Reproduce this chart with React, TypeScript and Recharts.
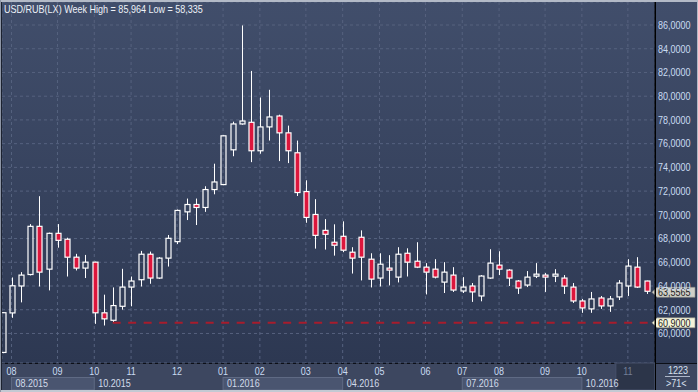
import React from 'react';
import { Bar, CartesianGrid, ComposedChart, ReferenceLine, XAxis, YAxis } from 'recharts';

// weekly USD/RUB candles, Aug 2015 - Nov 2016
const opens = [
  58.4, 61.73, 64.0, 64.97, 69.03, 65.42, 68.44, 67.94, 66.43, 65.51,
  66.01, 61.74, 61.11, 62.29, 63.91, 64.53, 66.68, 64.67, 66.35, 67.74,
  70.25, 70.87, 70.62, 72.13, 72.55, 75.48, 77.66, 77.8, 75.4, 77.41,
  78.33, 76.91, 75.23, 71.96, 70.03, 68.69, 67.69, 68.19, 66.85, 68.11,
  66.26, 64.67, 65.51, 64.75, 66.76, 66.09, 65.59, 65.42, 64.33, 64.92,
  63.58, 64.0, 63.16, 64.67, 65.76, 65.34, 64.42, 64.08, 64.83, 64.92,
  64.83, 64.67, 63.91, 62.74, 62.07, 62.99, 62.32, 63.08, 64.0, 65.59,
  64.42,
];
const highs = [
  61.8, 64.72, 65.17, 69.22, 71.57, 68.5, 69.22, 68.07, 66.71, 66.62,
  66.05, 63.27, 63.88, 65.45, 64.8, 66.96, 66.9, 66.43, 68.3, 70.45,
  71.37, 71.37, 72.41, 74.31, 76.7, 77.85, 85.964, 82.13, 79.89, 80.54,
  78.44, 77.52, 76.26, 72.91, 71.32, 69.64, 69.2, 69.45, 67.27, 68.69,
  66.76, 66.76, 66.6, 67.27, 67.18, 67.69, 65.93, 66.26, 66.01, 65.59,
  64.75, 64.25, 64.92, 67.1, 66.93, 65.42, 64.5, 65.26, 65.93, 65.09,
  65.42, 64.92, 64.25, 62.91, 63.5, 63.16, 63.16, 64.5, 66.26, 66.43,
  64.45,
];
const lows = [
  58.335, 61.32, 62.62, 64.89, 63.96, 63.63, 67.23, 64.8, 65.31, 64.67,
  60.81, 60.67, 60.9, 62.01, 62.29, 63.96, 64.19, 64.6, 65.64, 67.54,
  69.56, 69.14, 70.25, 71.73, 72.5, 74.94, 77.6, 74.44, 75.15, 76.26,
  74.53, 74.36, 71.59, 69.33, 67.15, 67.07, 66.56, 66.85, 65.05, 64.47,
  63.88, 63.96, 64.05, 64.3, 64.8, 65.51, 63.29, 64.64, 63.41, 63.5,
  63.41, 62.66, 62.71, 64.6, 64.92, 64.0, 63.33, 63.91, 64.67, 63.5,
  64.33, 63.33, 62.57, 61.74, 61.74, 62.07, 61.82, 62.82, 63.16, 63.83,
  63.33,
];
const closes = [
  61.75, 64.02, 64.92, 69.03, 65.17, 68.44, 67.85, 66.43, 65.51, 66.01,
  61.74, 61.23, 62.35, 63.91, 64.42, 66.68, 64.67, 66.35, 68.02, 70.37,
  70.87, 70.62, 72.13, 72.77, 76.66, 77.66, 77.91, 75.4, 77.41, 78.25,
  76.91, 75.4, 71.88, 69.78, 68.27, 68.36, 67.44, 67.02, 66.35, 66.43,
  64.58, 65.84, 65.34, 66.68, 66.01, 65.59, 65.17, 64.75, 65.17, 63.66,
  63.91, 63.5, 64.84, 65.93, 65.42, 64.67, 63.83, 64.75, 65.0, 64.75,
  65.0, 63.99, 62.74, 62.15, 62.91, 62.32, 62.91, 64.25, 65.68, 63.91,
  63.5565,
];

const monthTicks = [1, 6, 10, 14, 19, 24, 28, 33, 37, 41, 46, 50, 54, 59, 63, 68];
const monthLabels = ['08', '09', '10', '11', '12', '01', '02', '03', '04', '05', '06', '07', '08', '09', '10', '11'];
const quarterTicks = [1, 10, 24, 37, 50, 63];
const quarterLabels = ['08.2015', '10.2015', '01.2016', '04.2016', '07.2016', '10.2016'];
const yTicks = [60, 62, 64, 66, 68, 70, 72, 74, 76, 78, 80, 82, 84, 86];

const lastPrice = 63.5565;
const supportLevel = 60.9;
const supportFrom = 12;

const X_DOMAIN: [number, number] = [-0.03, 70.95];
const Y_DOMAIN: [number, number] = [57.51, 87.94];

// no narrow font installed, so Liberation Sans is squeezed horizontally
const FONT = "'Liberation Sans', Arial, sans-serif";
const SQUEEZE = 0.82;
const LABEL = '#c9dbf2';
const RED = '#dc163c';

const data = opens.map((open, i) => ({
  i,
  open,
  high: highs[i],
  low: lows[i],
  close: closes[i],
  range: [lows[i], highs[i]],
}));

const fmt = (v: number) => v.toFixed(4).replace('.', ',');

const NarrowText = ({ x, y, anchor = 'start', fill, children }: any) => (
  <text
    transform={`translate(${x},${y}) scale(${SQUEEZE},1)`}
    textAnchor={anchor}
    dominantBaseline="central"
    fill={fill}
    fontSize={11}
    fontFamily={FONT}
  >
    {children}
  </text>
);

const Candle = (props: any) => {
  const { x, y, width, height, payload } = props;
  if (payload == null || height == null) return null;
  const { open, close, high, low } = payload;
  const k = height / (high - low);
  const cx = Math.round(x + width / 2) + 0.5;
  const yO = y + (high - open) * k;
  const yC = y + (high - close) * k;
  const top = Math.min(yO, yC);
  const bot = Math.max(yO, yC);
  const up = close >= open;
  const bw = 5;
  return (
    <g>
      <line x1={cx} x2={cx} y1={y} y2={top} stroke="#fff" strokeWidth={1} />
      <line x1={cx} x2={cx} y1={bot} y2={y + height} stroke="#fff" strokeWidth={1} />
      <rect
        x={cx - bw / 2}
        y={top}
        width={bw}
        height={Math.max(bot - top, 1.5)}
        fill={up ? 'none' : RED}
        stroke="#fff"
        strokeWidth={1.2}
      />
    </g>
  );
};

const MonthTick = (props: any) => {
  const { x, y, payload } = props;
  const k = monthTicks.indexOf(payload.value);
  const last = k === monthTicks.length - 1;
  return (
    <g>
      {last && <rect x={x - 12} y={y} width={39} height={27} fill="#2c3549" stroke="#46506a" />}
      <NarrowText x={x} y={y + 8} anchor="middle" fill={last ? '#737e97' : LABEL}>
        {monthLabels[k]}
      </NarrowText>
    </g>
  );
};

const QuarterTick = (props: any) => {
  const { x, y, payload } = props;
  const k = quarterTicks.indexOf(payload.value);
  const next = k < quarterTicks.length - 1 ? quarterTicks[k + 1] : X_DOMAIN[1];
  const pxPerUnit = (Number(props.width) || 653) / (X_DOMAIN[1] - X_DOMAIN[0]);
  const w = (next - payload.value) * pxPerUnit;
  const shaded = k % 2 === 0;
  return (
    <g>
      {shaded && <rect x={x} y={y + 0.5} width={w} height={12.5} fill="#4a5570" stroke="#5f6a84" />}
      <NarrowText x={x + 4} y={y + 6.5} fill="#d2dbea">
        {quarterLabels[k]}
      </NarrowText>
    </g>
  );
};

const PriceTick = (props: any) => {
  const { x, y, payload } = props;
  return (
    <NarrowText x={x} y={y} fill={LABEL}>
      {fmt(payload.value)}
    </NarrowText>
  );
};

const PriceTag = (props: any) => {
  const { viewBox, text, bg, shift = 0 } = props;
  if (!viewBox) return null;
  const right = viewBox.x + viewBox.width;
  const cy = viewBox.y + shift;
  const pts = `${right - 3},${cy} ${right + 2},${cy - 5} ${right + 40},${cy - 5} ${right + 40},${cy + 5} ${right + 2},${cy + 5}`;
  return (
    <g>
      <polygon points={pts} fill={bg} stroke="#8d8d84" strokeWidth={0.6} />
      <NarrowText x={right + 3} y={cy} fill="#1e1e1e">
        {text}
      </NarrowText>
    </g>
  );
};

const squeezed = { transform: `scaleX(${SQUEEZE})`, transformOrigin: 'left center' } as const;

export default function App() {
  return (
    <div style={{ position: 'absolute', left: 0, top: 0, width: 698, height: 392, overflow: 'hidden', fontFamily: FONT }}>
      <div style={{ position: 'absolute', left: 0, top: 0, width: 698, height: 363, background: 'linear-gradient(#414e6b, #2d3852)' }} />
      <div style={{ position: 'absolute', left: 0, top: 363, width: 698, height: 29, background: '#3d4760', borderTop: '1px solid #0c0f17' }} />
      <div style={{ position: 'absolute', left: 0, top: 0 }}>
        <ComposedChart width={698} height={392} data={data} margin={{ top: 2, right: 0, bottom: 0, left: 2 }}>
          <CartesianGrid stroke="#56627f" strokeDasharray="3 3" />
          <XAxis
            dataKey="i"
            type="number"
            domain={X_DOMAIN}
            allowDataOverflow
            ticks={monthTicks}
            interval={0}
            height={14}
            tickSize={0}
            tickMargin={0}
            axisLine={false}
            tickLine={false}
            tick={MonthTick}
          />
          <XAxis
            xAxisId="q"
            dataKey="i"
            type="number"
            domain={X_DOMAIN}
            allowDataOverflow
            ticks={quarterTicks}
            interval={0}
            height={15}
            tickSize={0}
            tickMargin={0}
            axisLine={false}
            tickLine={false}
            tick={QuarterTick}
          />
          <YAxis
            orientation="right"
            width={43}
            domain={Y_DOMAIN}
            allowDataOverflow
            ticks={yTicks}
            interval={0}
            tickSize={0}
            tickMargin={3}
            tickLine={false}
            axisLine={{ stroke: '#000' }}
            tick={PriceTick}
          />
          <ReferenceLine
            segment={[{ x: supportFrom, y: supportLevel }, { x: X_DOMAIN[1], y: supportLevel }]}
            stroke="#a81c2c"
            strokeWidth={2}
            strokeDasharray="8 7.5"
          />
          <Bar dataKey="range" barSize={6} shape={Candle} isAnimationActive={false} />
          <ReferenceLine y={supportLevel} stroke="none" label={<PriceTag text={fmt(supportLevel)} bg="#f3f3d9" />} />
          <ReferenceLine y={lastPrice} stroke="none" label={<PriceTag text={fmt(lastPrice)} bg="#cfcfc7" shift={1} />} />
        </ComposedChart>
      </div>
      <div style={{ position: 'absolute', left: 655, top: 0, width: 1, height: 390, background: '#000' }} />
      <div style={{ position: 'absolute', left: 0, top: 0, width: 698, height: 2, background: '#b3bac7' }} />
      <div style={{ position: 'absolute', left: 0, top: 390, width: 698, height: 2, background: '#c3c9d3' }} />
      <div style={{ position: 'absolute', left: 0, top: 0, width: 1, height: 392, background: '#8d95a5' }} />
      <div style={{ position: 'absolute', left: 1, top: 2, width: 1, height: 388, background: '#1c2230' }} />
      <div style={{ position: 'absolute', left: 697, top: 0, width: 1, height: 392, background: '#b3bac7' }} />
      <div style={{ position: 'absolute', left: 4, top: 2, fontSize: 11, lineHeight: '14px', color: '#eef2f8', whiteSpace: 'nowrap', ...squeezed }}>
        USD/RUB(LX) Week High = 85,964 Low = 58,335
      </div>
      <div style={{ position: 'absolute', left: 668, top: 364, fontSize: 11, lineHeight: '13px', color: '#d8e0ee', whiteSpace: 'nowrap', ...squeezed }}>
        1223
      </div>
      <div style={{ position: 'absolute', left: 665, top: 376, width: 25, height: 1, background: '#aeb7c8' }} />
      <div style={{ position: 'absolute', left: 666, top: 377, fontSize: 11, lineHeight: '13px', color: '#d8e0ee', whiteSpace: 'nowrap', ...squeezed }}>
        {'>71<'}
      </div>
    </div>
  );
}
